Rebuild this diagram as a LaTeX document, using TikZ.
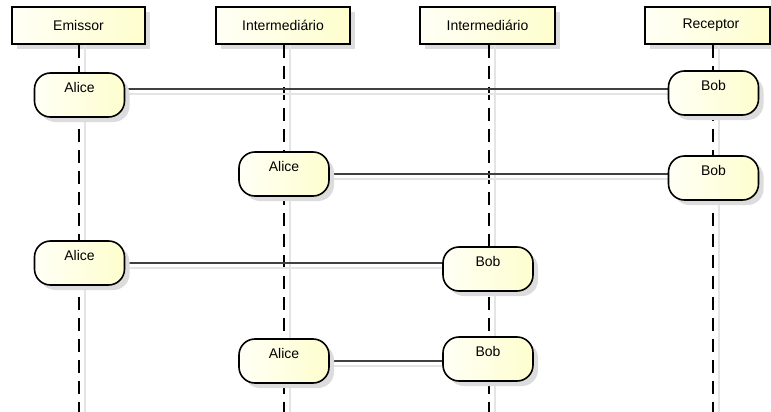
\documentclass[tikz,border=0pt]{standalone}
\usepackage{fontspec}
\setmainfont{Liberation Sans}
\usetikzlibrary{shadows}
\definecolor{notefill}{RGB}{254,254,206}
\definecolor{notelight}{RGB}{255,255,246}
\definecolor{shadegray}{RGB}{220,220,220}
\definecolor{lineshade}{RGB}{228,228,228}

\begin{document}
\begin{tikzpicture}[x=1pt,y=-1pt,
  boxshadow/.style={drop shadow={shadow xshift=5pt, shadow yshift=-5pt, fill=shadegray, opacity=1}},
  header/.style={draw=black, line width=1.6pt, left color=notelight, right color=notefill,
    minimum height=37pt, inner sep=0pt, font=\fontsize{14}{16}\selectfont, boxshadow},
  pill/.style={draw=black, line width=1.6pt, rounded corners=16pt, left color=notelight,
    right color=notefill, minimum width=90pt, minimum height=44pt, inner sep=0pt,
    text height=10pt, text depth=14.6pt, font=\fontsize{14}{16}\selectfont, boxshadow},
  lifeline/.style={draw=black, line width=1.2pt, dash pattern=on 13pt off 8pt},
  lifeshade/.style={draw=lineshade, line width=1.2pt},
  msg/.style={draw=black!75, line width=1.1pt},
  msgshade/.style={draw=lineshade, line width=1.2pt}
]
\useasboundingbox[fill=white] (0,0) rectangle (771,412);

% participant heads
\node[header, minimum width=133pt] (hE)  at (78.5,25.5) {Emissor};
\node[header, minimum width=134pt] (hI1) at (283,25.5)  {Intermediário};
\node[header, minimum width=135pt] (hI2) at (487.5,25.5) {Intermediário};
\node[header, minimum width=125pt] (hR)  at (707.5,25.5) {\hspace*{7pt}Receptor};

% lifeline feet
\coordinate (fE)  at (79,412);
\coordinate (fI1) at (284,412);
\coordinate (fI2) at (489,412);
\coordinate (fR)  at (713,412);

% lifelines with their light shadow
\foreach \f/\h in {fE/hE, fI1/hI1, fI2/hI2, fR/hR}{
  \draw[lifeshade] ([xshift=6pt]\f |- \h.south) -- ([xshift=6pt]\f);
  \draw[lifeline] (\f |- \h.south) -- (\f);
}

% centres of the activation pills
\path (79.5,95)  coordinate (pa1) (713.5,93)  coordinate (pb1)
      (284,174)  coordinate (pa2) (713.5,178) coordinate (pb2)
      (79.5,263) coordinate (pa3) (488,269)   coordinate (pb3)
      (284,361)  coordinate (pa4) (488,359)   coordinate (pb4);

% connectors and their shadows, under the pills
\draw[msgshade] ([yshift=1pt]pa1) -- ([yshift=1pt]pa1 -| pb1);
\draw[msg]      ([yshift=6pt]pa1) -- ([yshift=6pt]pa1 -| pb1);
\foreach \a/\b in {pa2/pb2, pa3/pb3, pa4/pb4}{
  \draw[msgshade] ([yshift=-5pt]\a) -- ([yshift=-5pt]\a -| \b);
  \draw[msg]      (\a) -- (\a -| \b);
}

\node[pill] (a1) at (pa1) {Alice};
\node[pill] (b1) at (pb1) {Bob};
\node[pill] (a2) at (pa2) {Alice};
\node[pill] (b2) at (pb2) {Bob};
\node[pill] (a3) at (pa3) {Alice};
\node[pill] (b3) at (pb3) {Bob};
\node[pill] (a4) at (pa4) {Alice};
\node[pill] (b4) at (pb4) {Bob};
\end{tikzpicture}
\end{document}
